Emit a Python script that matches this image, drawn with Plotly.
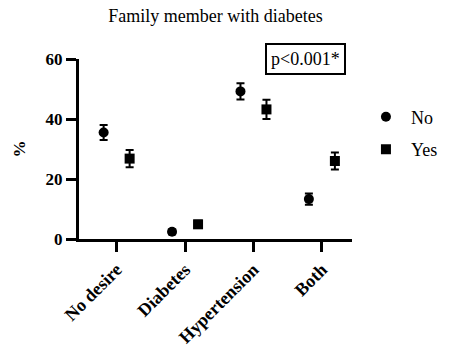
import plotly.graph_objects as go

# Survey responses by family history of diabetes
categories = ["No desire", "Diabetes", "Hypertension", "Both"]
no_values = [35.5, 2.4, 49.2, 13.3]
no_errors = [2.5, 0.8, 2.7, 1.9]
yes_values = [26.8, 4.9, 43.2, 26.0]
yes_errors = [2.9, 1.2, 3.2, 2.8]
y_ticks = [0, 20, 40, 60]

offset = 0.19
pos = list(range(len(categories)))

serif = "'Times New Roman', 'Liberation Serif', serif"

fig = go.Figure()
fig.add_trace(go.Scatter(
    x=[p - offset for p in pos], y=no_values, mode="markers", name="No",
    legendgroup="no",
    marker=dict(symbol="circle", size=10, color="black"),
    error_y=dict(type="data", array=no_errors, color="black", thickness=2, width=4),
    cliponaxis=False,
))
fig.add_trace(go.Scatter(
    x=[p + offset for p in pos], y=yes_values, mode="markers", name="Yes",
    legendgroup="yes",
    marker=dict(symbol="square", size=10, color="black"),
    error_y=dict(type="data", array=yes_errors, color="black", thickness=2, width=4),
    cliponaxis=False,
))

fig.add_annotation(
    text="p&lt;0.001*", xref="paper", yref="paper", x=0.83, y=1.0,
    xanchor="center", yanchor="middle", showarrow=False,
    font=dict(family=serif, size=18, color="black"),
    bordercolor="black", borderwidth=2, borderpad=4, bgcolor="white",
)

fig.update_layout(
    width=454, height=354,
    margin=dict(l=79, r=101, t=59, b=115),
    paper_bgcolor="white", plot_bgcolor="white",
    font=dict(family=serif, color="black"),
    title=dict(text="Family member with diabetes", x=0.5, xref="paper",
               y=1 - 16 / 354, yref="container", yanchor="middle",
               font=dict(family=serif, size=18, color="black")),
    showlegend=True,
    legend=dict(x=1.029, y=0.78, xanchor="left", yanchor="top",
                font=dict(family=serif, size=18, color="black"),
                traceorder="grouped", tracegroupgap=6, itemwidth=40),
    xaxis=dict(
        range=[-0.55, 3.44], tickvals=pos, ticktext=categories,
        tickangle=-45, ticks="outside", ticklen=10, tickwidth=2.5, tickcolor="black",
        showline=True, linewidth=3, linecolor="black",
        showgrid=False, zeroline=False, automargin=False,
        tickfont=dict(family=serif, size=18, color="black", weight="bold"),
    ),
    yaxis=dict(
        range=[0, 60], tickvals=y_ticks,
        ticks="outside", ticklen=10, tickwidth=2.5, tickcolor="black",
        showline=True, linewidth=3, linecolor="black",
        showgrid=False, zeroline=False, automargin=False,
        tickfont=dict(family=serif, size=17, color="black", weight="bold"),
        title=dict(text="%", standoff=16,
                   font=dict(family=serif, size=17, color="black", weight="bold")),
    ),
)

fig.write_html("out.html")
